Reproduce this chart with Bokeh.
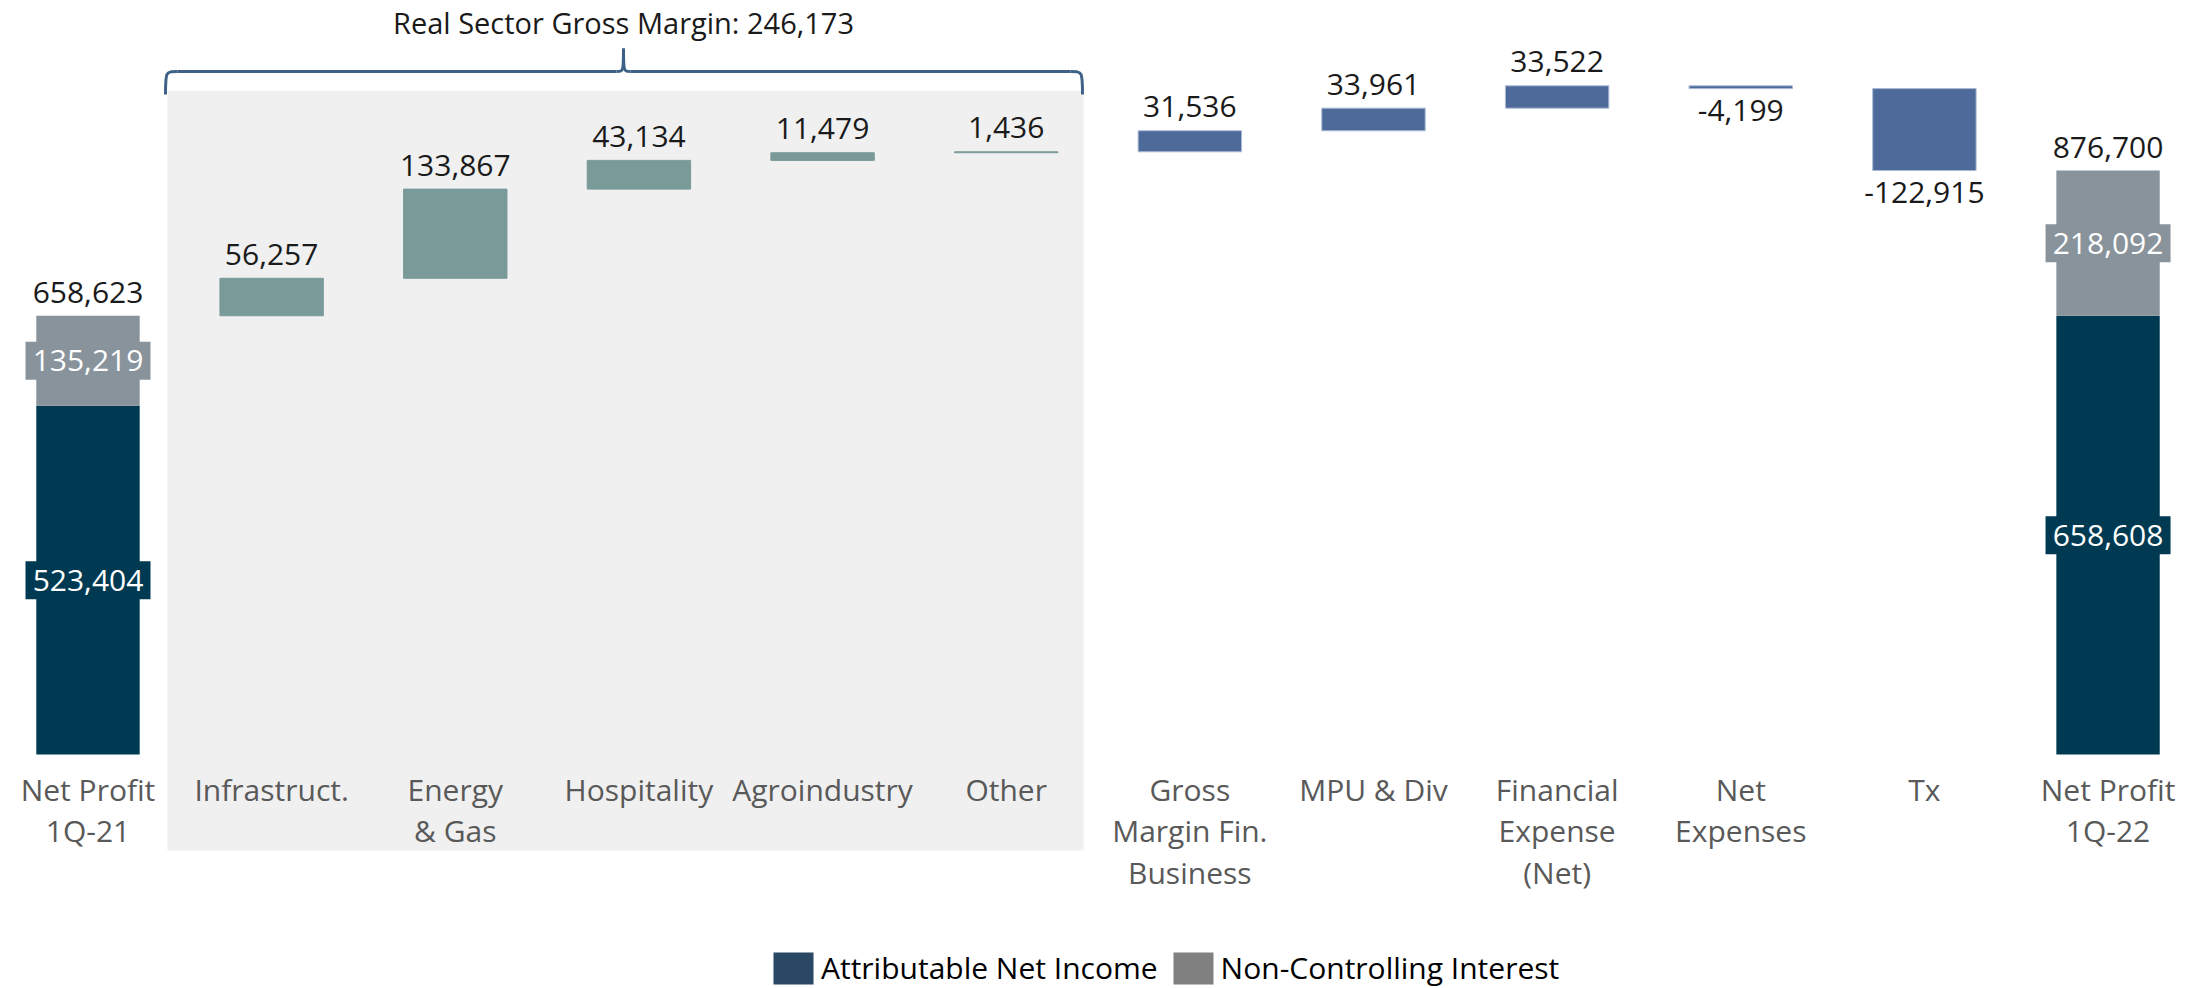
import numpy as np
from bokeh.plotting import figure
from bokeh.models import Range1d, Legend, LegendItem, ColumnDataSource
from bokeh.core.properties import value
from bokeh.embed import file_html
from bokeh.resources import INLINE

# ---------------- data ----------------
categories = ["Net Profit\n1Q-21", "Infrastruct.", "Energy\n& Gas", "Hospitality",
              "Agroindustry", "Other", "Gross\nMargin Fin.\nBusiness", "MPU & Div",
              "Financial\nExpense\n(Net)", "Net\nExpenses", "Tx", "Net Profit\n1Q-22"]
start_attr = 523404
start_nci = 135219
start_total = 658623
end_attr = 658608
end_nci = 218092
end_total = 876700
changes = [56257, 133867, 43134, 11479, 1436, 31536, 33961, 33522, -4199, -122915]
real_sector_idx = [1, 2, 3, 4, 5]
bracket_title = "Real Sector Gross Margin: 246,173"
legend_labels = ["Attributable Net Income", "Non-Controlling Interest"]

# ---------------- styles ----------------
FONT = "Open Sans"
C_ATTR = "#003A52"
C_NCI = "#88939C"
C_REAL = "#7A9A9A"
C_FIN = "#4D6A9A"
C_PANEL = "#F0F0F0"
C_BRACKET = "#3E6187"
C_CAT = "#595959"
C_VAL = "#1A1A1A"
LEG_COLORS = ["#2A4763", "#808080"]

W, H = 2198, 988
X_PER_PX = 1 / 183.64        # category units per pixel
Y_PER_PX = 1501.2            # value units per pixel
X_ORIGIN_PX = 87.5           # pixel of first category
Y_ZERO_PX = 754              # pixel of value 0


def dx(px):
    return (px - X_ORIGIN_PX) * X_PER_PX


def dy(py):
    return (Y_ZERO_PX - py) * Y_PER_PX


x0, x1 = dx(0), dx(W)
y0, y1 = dy(H), dy(0)
BW = 0.563

p = figure(width=W, height=H, output_backend="svg", toolbar_location=None,
           x_range=Range1d(x0, x1), y_range=Range1d(y0, y1),
           x_axis_type=None, y_axis_type=None, min_border=0,
           background_fill_color="white", border_fill_color="white")
p.outline_line_color = None
p.xgrid.visible = False
p.ygrid.visible = False

# ---------------- grey panel for real sector ----------------
pl = dx(167)
pr = dx(1083)
p.quad(left=[pl], right=[pr], top=[dy(90)], bottom=[dy(850)],
       fill_color=C_PANEL, line_color=None)

# ---------------- waterfall ----------------
chg = np.array(changes, dtype=float)
cum = start_total + np.cumsum(chg)
prev = np.concatenate([[start_total], cum[:-1]])
idx = np.arange(1, 1 + len(changes))
lo = np.minimum(prev, cum)
hi = np.maximum(prev, cum)
colors = [C_REAL if i in real_sector_idx else C_FIN for i in idx]
lcol = [C_REAL if i in real_sector_idx else "#A9B9D2" for i in idx]
src = ColumnDataSource(dict(x=idx, top=hi, bottom=lo, color=colors, lc=lcol))
p.vbar(x="x", top="top", bottom="bottom", width=BW, fill_color="color",
       line_color="lc", line_width=1, source=src)

# totals stacked bars
tx = [0, len(categories) - 1]
attr = [start_attr, end_attr]
nci = [start_nci, end_nci]
tot = [start_total, end_total]
p.vbar(x=tx, bottom=0, top=attr, width=BW, fill_color=C_ATTR, line_color=None)
p.vbar(x=tx, bottom=attr, top=[a + n for a, n in zip(attr, nci)], width=BW,
       fill_color=C_NCI, line_color=None)

# inside labels with boxes
mid_attr = [a / 2 for a in attr]
mid_nci = [a + n / 2 for a, n in zip(attr, nci)]
p.rect(x=tx, y=mid_attr, width=125, height=38, width_units="screen",
       height_units="screen", fill_color=C_ATTR, line_color=None)
p.rect(x=tx, y=mid_nci, width=125, height=38, width_units="screen",
       height_units="screen", fill_color=C_NCI, line_color=None)
p.text(x=tx, y=mid_attr, text=[f"{v:,}" for v in attr], text_align="center",
       text_baseline="middle", text_color="white", text_font=value(FONT),
       text_font_size="30px")
p.text(x=tx, y=mid_nci, text=[f"{v:,}" for v in nci], text_align="center",
       text_baseline="middle", text_color="white", text_font=value(FONT),
       text_font_size="30px")

# total labels
p.text(x=tx, y=tot, text=[f"{v:,}" for v in tot], text_align="center",
       text_baseline="alphabetic", y_offset=-23, text_color=C_VAL,
       text_font=value(FONT), text_font_size="30px")

# change labels
pos = chg >= 0
p.text(x=idx[pos], y=hi[pos], text=[f"{int(v):,}" for v in chg[pos]],
       text_align="center", text_baseline="alphabetic", y_offset=-24,
       text_color=C_VAL, text_font=value(FONT), text_font_size="30px")
p.text(x=idx[~pos], y=lo[~pos], text=[f"{int(v):,}" for v in chg[~pos]],
       text_align="center", text_baseline="alphabetic", y_offset=22,
       text_color=C_VAL, text_font=value(FONT), text_font_size="30px")

# category labels
p.text(x=list(range(len(categories))), y=[0] * len(categories), text=categories,
       text_align="center", text_baseline="top", y_offset=14,
       text_line_height=1.02, text_color=C_CAT, text_font=value(FONT),
       text_font_size="30px")

# ---------------- bracket ----------------
yb = dy(71)      # horizontal line
yend = dy(94)    # ends
ypk = dy(48)     # peak
bl = dx(165)
br = dx(1082)
bc = dx(623)
r = 12 * X_PER_PX
pk = 7 * X_PER_PX
p.bezier(x0=[bl, bc - pk, bc, br - r], y0=[yend, yb, ypk, yb],
         x1=[bl + r, bc, bc + pk, br], y1=[yb, ypk, yb, yend],
         cx0=[bl, bc, bc, br], cy0=[yb, yb, yb, yb],
         cx1=[bl, bc, bc, br], cy1=[yb, yb, yb, yb],
         line_color=C_BRACKET, line_width=3)
p.segment(x0=[bl + r, bc + pk], y0=[yb, yb], x1=[bc - pk, br - r], y1=[yb, yb],
          line_color=C_BRACKET, line_width=3)
p.text(x=[bc], y=[ypk], text=[bracket_title], text_align="center",
       text_baseline="alphabetic", y_offset=-26, text_color=C_VAL,
       text_font=value(FONT), text_font_size="29px")

# ---------------- legend ----------------
r1 = p.vbar(x=[0], top=[0], bottom=[0], width=0.001, fill_color=LEG_COLORS[0],
            line_color=None)
r2 = p.vbar(x=[0], top=[0], bottom=[0], width=0.001, fill_color=LEG_COLORS[1],
            line_color=None)
leg = Legend(items=[LegendItem(label=legend_labels[0], renderers=[r1]),
                    LegendItem(label=legend_labels[1], renderers=[r2])],
             orientation="horizontal", location=(768, 0),
             glyph_width=50, glyph_height=40, label_standoff=3, spacing=10,
             padding=0, margin=0, border_line_color=None,
             background_fill_alpha=0, label_text_font=FONT,
             label_text_font_size="30px", label_text_color="#000000",
             label_height=40)
p.add_layout(leg)

open("out.html", "w").write(file_html(p, INLINE))
